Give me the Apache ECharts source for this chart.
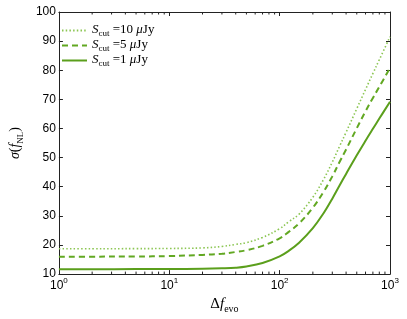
<!DOCTYPE html>
<html><head><meta charset="utf-8">
<script src="https://cdn.jsdelivr.net/npm/echarts@6/dist/echarts.min.js"></script>
<style>html,body{margin:0;padding:0;background:#fff}#c{width:407px;height:319px}</style>
</head><body><div id="c"></div>
<script>
// Delta f_evo sample points
const xValues = [1, 2, 5, 10, 20, 30, 40, 50, 70, 100, 120, 150, 200, 250, 300, 350, 400, 500, 600, 700, 800, 1000];
// sigma(f_NL) for S_cut = 10, 5, 1 muJy
const sigmaS10 = [18.7, 18.7, 18.75, 18.8, 19.0, 19.5, 20.2, 20.8, 22.6, 25.6, 27.9, 30.6, 36.4, 42.5, 48.45, 54.0, 58.7, 66.8, 73.4, 78.9, 83.6, 91.5];
const sigmaS5  = [16.0, 16.0, 16.05, 16.2, 16.6, 17.0, 17.6, 18.2, 19.7, 22.3, 24.4, 27.4, 32.8, 38.25, 43.55, 48.6, 52.8, 60.1, 65.9, 70.5, 74.3, 80.8];
const sigmaS1  = [11.7, 11.7, 11.72, 11.75, 11.85, 12.0, 12.2, 12.6, 13.8, 16.1, 17.9, 20.8, 25.8, 30.9, 35.9, 40.5, 44.4, 50.8, 55.8, 59.9, 63.4, 69.2];
const seriesNames = ['S10', 'S5', 'S1'];
const legendLabels = {
  S10: '{s|S}{sub|cut}{n| =10 }{s|μ}{n|Jy}',
  S5:  '{s|S}{sub|cut}{n| =5 }{s|μ}{n|Jy}',
  S1:  '{s|S}{sub|cut}{n| =1 }{s|μ}{n|Jy}'
};
const yMin = 10, yMax = 100, yStep = 10;
const xMin = 1, xMax = 1000;
const minorTickValues = [2,3,4,5,6,7,8,9,20,30,40,50,60,70,80,90,200,300,400,500,600,700,800,900];

const serif = 'Liberation Serif';
const sans = 'Liberation Sans';
const axisColor = '#222';

function pairs(ys) { return xValues.map((x, i) => [x, ys[i]]); }

const chart = echarts.init(document.getElementById('c'));
const baseX = {
  type: 'log', logBase: 10, min: xMin, max: xMax,
  axisLine: { show: true, lineStyle: { color: axisColor, width: 1 } },
  axisTick: { show: true, inside: true, length: 4, lineStyle: { color: axisColor } },
  splitLine: { show: false }, minorTick: { show: false }
};
const baseY = {
  type: 'value', min: yMin, max: yMax, interval: yStep,
  axisLine: { show: true, lineStyle: { color: axisColor, width: 1 } },
  axisTick: { show: true, inside: true, length: 4, lineStyle: { color: axisColor } },
  splitLine: { show: false }
};
chart.setOption({
  animation: false,
  grid: { left: 46, right: 17, top: 12, bottom: 41 },
  xAxis: [
    Object.assign({}, baseX, {
      position: 'bottom',
      axisLabel: {
        margin: 3,
        formatter: v => '{b|10}{e|' + Math.round(Math.log10(v)) + '}',
        rich: {
          b: { fontFamily: sans, fontSize: 12, color: '#000', lineHeight: 15, verticalAlign: 'bottom' },
          e: { fontFamily: sans, fontSize: 8, color: '#000', lineHeight: 9, verticalAlign: 'top' }
        }
      },
      name: '{r|Δ}{i|f}{sub|evo}', nameLocation: 'middle', nameGap: 22,
      nameTextStyle: {
        rich: {
          r: { fontFamily: serif, fontSize: 15, color: '#000', lineHeight: 17, verticalAlign: 'top' },
          i: { fontFamily: serif, fontStyle: 'italic', fontSize: 15, color: '#000', lineHeight: 17, verticalAlign: 'top' },
          sub: { fontFamily: serif, fontSize: 10, color: '#000', lineHeight: 8, verticalAlign: 'bottom' }
        }
      }
    }),
    Object.assign({}, baseX, { position: 'top', axisLabel: { show: false } })
  ],
  yAxis: [
    Object.assign({}, baseY, {
      position: 'left',
      axisLabel: { margin: 3, fontFamily: sans, fontSize: 12, color: '#000' },
      name: '{i|σ}{r|(}{i|f}{sub|NL}{r|)}', nameLocation: 'middle', nameGap: 31, nameRotate: 90,
      nameTextStyle: {
        rich: {
          r: { fontFamily: serif, fontSize: 14, color: '#000', lineHeight: 17, verticalAlign: 'top' },
          i: { fontFamily: serif, fontStyle: 'italic', fontSize: 14, color: '#000', lineHeight: 17, verticalAlign: 'top' },
          sub: { fontFamily: serif, fontSize: 9, color: '#000', lineHeight: 8, verticalAlign: 'bottom' }
        }
      }
    }),
    Object.assign({}, baseY, { position: 'right', axisLabel: { show: false } })
  ],
  legend: {
    data: seriesNames, orient: 'vertical', left: 56, top: 18,
    itemWidth: 25, itemHeight: 12, itemGap: 0,
    itemStyle: { opacity: 0 },
    formatter: n => legendLabels[n],
    textStyle: {
      rich: {
        s: { fontFamily: serif, fontStyle: 'italic', fontSize: 13, color: '#000', lineHeight: 15, verticalAlign: 'top' },
        n: { fontFamily: serif, fontSize: 13, color: '#000', lineHeight: 15, verticalAlign: 'top' },
        sub: { fontFamily: serif, fontSize: 9, color: '#000', lineHeight: 7, verticalAlign: 'bottom' }
      }
    }
  },
  series: [
    { name: 'S10', type: 'line', data: pairs(sigmaS10), symbol: 'none', smooth: 0.4,
      lineStyle: { color: '#8cc653', width: 1.6, type: [1.5, 2.2] }, itemStyle: { color: '#8cc653' } },
    { name: 'S5', type: 'line', data: pairs(sigmaS5), symbol: 'none', smooth: 0.4,
      lineStyle: { color: '#62a822', width: 2, type: [6, 4] }, itemStyle: { color: '#62a822' } },
    { name: 'S1', type: 'line', data: pairs(sigmaS1), symbol: 'none', smooth: 0.4,
      lineStyle: { color: '#5b9f1c', width: 2, type: 'solid' }, itemStyle: { color: '#5b9f1c' } },
    { type: 'custom', silent: true, clip: false, z: 5,
      data: minorTickValues.map(v => [v, yMin]),
      renderItem: (params, api) => {
        const b = api.coord([api.value(0), yMin]);
        const t = api.coord([api.value(0), yMax]);
        return { type: 'group', children: [
          { type: 'line', shape: { x1: b[0], y1: b[1], x2: b[0], y2: b[1] - 2.5 }, style: { stroke: axisColor, lineWidth: 1 } },
          { type: 'line', shape: { x1: t[0], y1: t[1], x2: t[0], y2: t[1] + 2.5 }, style: { stroke: axisColor, lineWidth: 1 } }
        ]};
      }
    }
  ]
});
</script></body></html>
